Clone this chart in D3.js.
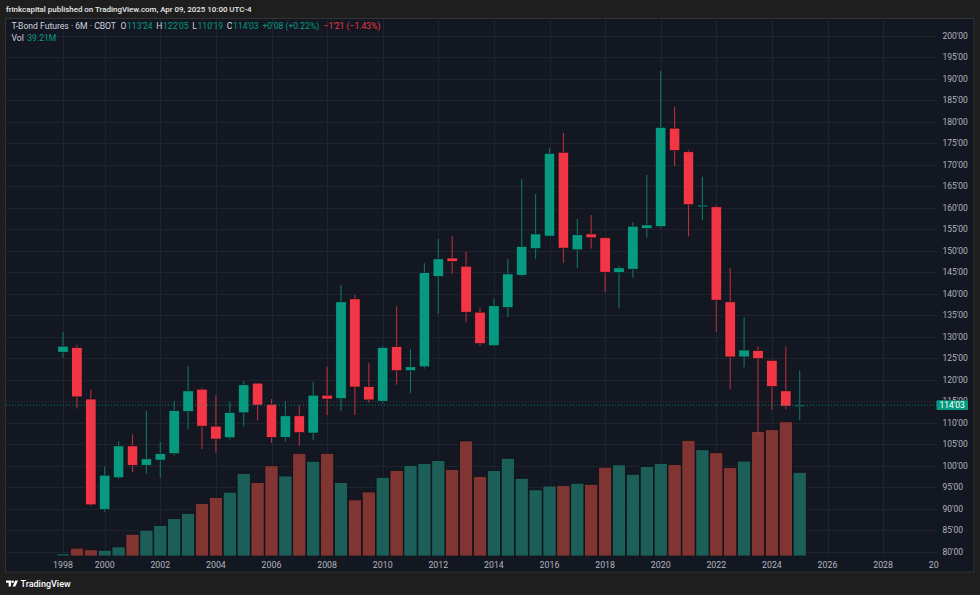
<!DOCTYPE html>
<html><head><meta charset="utf-8">
<script src="https://cdn.jsdelivr.net/npm/d3@7"></script>
<style>html,body{margin:0;padding:0;background:#1e1e1e;} svg{display:block;}</style>
</head><body><svg id="c" width="980" height="595"></svg>
<script>
// ---- data (6-month bars, T-Bond futures, CBOT) ----
const periods = ["1998 H2","1999 H1","1999 H2","2000 H1","2000 H2","2001 H1","2001 H2","2002 H1","2002 H2","2003 H1",
  "2003 H2","2004 H1","2004 H2","2005 H1","2005 H2","2006 H1","2006 H2","2007 H1","2007 H2","2008 H1",
  "2008 H2","2009 H1","2009 H2","2010 H1","2010 H2","2011 H1","2011 H2","2012 H1","2012 H2","2013 H1",
  "2013 H2","2014 H1","2014 H2","2015 H1","2015 H2","2016 H1","2016 H2","2017 H1","2017 H2","2018 H1",
  "2018 H2","2019 H1","2019 H2","2020 H1","2020 H2","2021 H1","2021 H2","2022 H1","2022 H2","2023 H1",
  "2023 H2","2024 H1","2024 H2","2025 H1"];
const opens  = [126.4,127.5,115.5,89.8,97.2,104.6,100.1,101.3,102.8,112.6,
  117.8,109.2,106.5,112.3,119.2,114.3,106.6,111.6,107.6,116.4,
  115.6,138.8,118.4,115.0,127.7,122.1,123.0,144.0,148.3,146.4,
  135.7,127.9,136.8,144.3,150.5,153.4,172.9,150.2,153.9,153.0,
  144.9,145.7,155.2,155.6,178.5,173.0,160.2,160.2,138.1,125.3,
  126.8,124.5,117.4,113.75];
const highs  = [131.1,128.1,117.7,99.9,105.7,107.3,112.7,105.5,115.0,123.2,
  118.1,116.4,114.9,119.7,119.3,115.5,115.0,114.0,119.5,123.0,
  142.0,139.7,123.8,127.8,137.1,127.1,147.1,152.7,153.4,149.8,
  136.8,138.8,148.0,166.7,163.2,173.9,177.4,157.4,158.3,153.2,
  146.5,156.6,167.6,191.8,183.5,173.4,167.2,160.6,146.0,134.5,
  127.8,124.7,127.7,122.156];
const lows   = [125.1,113.3,90.6,89.3,96.9,98.5,98.1,97.2,102.4,108.5,
  103.9,103.0,106.1,109.1,110.5,105.3,105.6,104.6,106.0,111.8,
  112.7,111.8,114.7,114.5,118.8,116.9,122.6,135.3,144.7,133.3,
  127.9,127.8,134.6,144.0,148.0,153.4,147.2,145.9,150.5,140.4,
  136.6,143.7,153.0,155.3,169.7,153.3,157.1,131.1,117.8,122.9,
  107.1,113.0,113.1,110.594];
const closes = [127.8,116.0,90.9,97.8,104.6,100.1,101.6,102.8,112.8,117.4,
  109.2,106.2,112.4,118.8,114.1,106.6,111.6,107.7,116.4,115.5,
  138.1,118.3,115.3,127.5,122.1,123.0,144.9,148.1,147.5,135.7,
  128.4,137.2,144.6,151.0,153.9,172.65,150.6,153.7,153.0,145.0,
  146.0,155.7,156.0,178.7,173.3,160.7,160.6,138.5,125.3,126.9,
  124.9,118.4,113.84,114.094];
const volumes = [1.0,3.7,2.9,2.7,4.3,10.2,12.1,14.3,17.5,20.0,
  24.6,27.4,29.9,38.7,34.4,42.3,37.5,48.1,44.4,48.1,
  34.4,26.3,30.0,36.9,40.1,42.5,43.4,44.7,40.6,53.9,
  37.3,40.1,45.8,36.4,31.0,32.8,33.0,34.1,33.6,41.6,
  42.7,38.3,42.0,43.4,42.8,54.2,49.8,48.4,41.4,44.5,
  58.3,59.2,62.9,39.21]; // millions
const priceTicks = [80,85,90,95,100,105,110,115,120,125,130,135,140,145,150,155,160,165,170,175,180,185,190,195,200];
const yearLabels = [1998,2000,2002,2004,2006,2008,2010,2012,2014,2016,2018,2020,2022,2024,2026,2028,2030];
const header = "frinkcapital published on TradingView.com, Apr 09, 2025 10:00 UTC-4";
const title = "T-Bond Futures · 6M · CBOT";
const legendO = "113'24", legendH = "122'05", legendL = "110'19", legendC = "114'03";
const legendChg = "+0'08 (+0.22%)", legendChg2 = "\u22121'21 (\u22121.43%)";
const volText = "39.21M";

// ---- drawing ----
const UP = "#089981", DOWN = "#f23645";
const UPW = "#0f7465", DOWNW = "#b3303d";
const VUP = "#1c5e58", VDOWN = "#813533";
const FONT = "Roboto, 'Noto Sans', sans-serif";
const svg = d3.select("#c");
svg.append("rect").attr("width",980).attr("height",595).attr("fill","#1e1e1e");
svg.append("rect").attr("x",5.5).attr("y",18.5).attr("width",968.5).attr("height",553.5)
  .attr("fill","#131722").attr("stroke","#333333");

const plot = {l:6, r:937, t:19, b:556};
const x = d3.scaleLinear().domain([0,63]).range([63,938.7]);
const y = d3.scaleLinear().domain([80,200]).range([551.7,35.7]);
const yVol = d3.scaleLinear().domain([0,d3.max(volumes)]).range([plot.b, plot.b-0.25*(plot.b-plot.t)]);
const yearIndex = yr => yr===1998 ? 0 : (yr-1998)*2-1;
const fmtPrice = v => { const w=Math.floor(v); const t=Math.round((v-w)*32); return w+"'"+String(t).padStart(2,"0"); };

const defs = svg.append("defs");
defs.append("clipPath").attr("id","pc").append("rect")
  .attr("x",plot.l).attr("y",plot.t).attr("width",plot.r-plot.l).attr("height",plot.b-plot.t);
defs.append("clipPath").attr("id","tc").append("rect")
  .attr("x",plot.l).attr("y",556).attr("width",plot.r-plot.l+2).attr("height",16);
const g = svg.append("g").attr("clip-path","url(#pc)");

// grid
g.selectAll("line.hg").data(priceTicks).join("line").attr("class","hg")
  .attr("x1",plot.l).attr("x2",plot.r)
  .attr("y1",d=>Math.round(y(d))+0.5).attr("y2",d=>Math.round(y(d))+0.5)
  .attr("stroke","#1f2330").attr("stroke-width",1);
g.selectAll("line.vg").data(yearLabels).join("line").attr("class","vg")
  .attr("x1",d=>Math.round(x(yearIndex(d)))+0.5).attr("x2",d=>Math.round(x(yearIndex(d)))+0.5)
  .attr("y1",plot.t).attr("y2",plot.b)
  .attr("stroke","#1f2330").attr("stroke-width",1);

const idx = d3.range(periods.length);
const isUp = i => closes[i] >= opens[i];

// volume
g.selectAll("rect.vol").data(idx).join("rect").attr("class","vol")
  .attr("x",i=>x(i)-6.6).attr("width",13.2)
  .attr("y",i=>yVol(volumes[i])).attr("height",i=>plot.b-yVol(volumes[i]))
  .attr("fill",i=>isUp(i)?VUP:VDOWN)
  .attr("stroke","#0d1017").attr("stroke-width",0.8);

// wicks
g.selectAll("line.wick").data(idx).join("line").attr("class","wick")
  .attr("x1",i=>x(i)).attr("x2",i=>x(i))
  .attr("y1",i=>y(highs[i])).attr("y2",i=>y(lows[i]))
  .attr("stroke",i=>isUp(i)?UPW:DOWNW).attr("stroke-width",1.1);
// bodies
g.selectAll("rect.body").data(idx).join("rect").attr("class","body")
  .attr("x",i=>x(i)-5.2).attr("width",10.4)
  .attr("y",i=>y(Math.max(opens[i],closes[i])))
  .attr("height",i=>Math.max(1.5, Math.abs(y(opens[i])-y(closes[i]))))
  .attr("fill",i=>isUp(i)?UP:DOWN)
  .attr("stroke","#0d1017").attr("stroke-width",0.6);

// last price line
const last = closes[closes.length-1];
g.append("line").attr("x1",plot.l).attr("x2",plot.r)
  .attr("y1",y(last)).attr("y2",y(last))
  .attr("stroke",UP).attr("stroke-width",1).attr("stroke-dasharray","1,2").attr("opacity",0.8);

// price axis labels (the one under the last-price box is clipped to its visible top part)
defs.append("clipPath").attr("id","lc").append("rect")
  .attr("x",936).attr("y",0).attr("width",44).attr("height",y(last)-4.8);
svg.selectAll("text.pt").data(priceTicks).join("text").attr("class","pt")
  .attr("x",942.5).attr("y",d=>y(d)).attr("dy","0.35em")
  .attr("fill","#b2b5be").attr("font-family",FONT).attr("font-size",8.5)
  .attr("clip-path",d=>Math.abs(y(d)-y(last))<10 ? "url(#lc)" : null)
  .text(d=>d+"'00");
// last price box
svg.append("rect").attr("x",936.5).attr("y",y(last)-4.8).attr("width",31.5).attr("height",9.6)
  .attr("fill",UP).attr("rx",1);
svg.append("text").attr("x",952.2).attr("y",y(last)).attr("dy","0.35em").attr("text-anchor","middle")
  .attr("fill","#ffffff").attr("font-family",FONT).attr("font-size",8.5).text(fmtPrice(last));

// time axis labels
svg.append("g").selectAll("text").data(yearLabels).join("text")
  .attr("x",d=>x(yearIndex(d))).attr("y",564.7).attr("dy","0.35em").attr("text-anchor","middle")
  .attr("fill","#b2b5be").attr("font-family",FONT).attr("font-size",8.8)
  .attr("clip-path","url(#tc)")
  .text(d=>String(d));

// helper: shrink/grow font so text spans the target width
function fitWidth(sel, target){
  const fs = +sel.attr("font-size");
  const w = sel.node().getComputedTextLength();
  if (w > 0) sel.attr("font-size", (fs*target/w).toFixed(2));
}

// header
const hd = svg.append("text").attr("x",6).attr("y",9).attr("dy","0.35em")
  .attr("fill","#e8e8e8").attr("font-family",FONT).attr("font-size",8).attr("font-weight",500)
  .text(header);
fitWidth(hd, 246);

// legend: sequential layout
const leg = svg.append("g").attr("font-family",FONT).attr("font-size",8.6);
const legItems = [
  [title, "#d1d4dc", 0], ["O", "#d1d4dc", 4.5], [legendO, UP, 0.6],
  ["H", "#d1d4dc", 3.6], [legendH, UP, 0.6], ["L", "#d1d4dc", 3.6], [legendL, UP, 0.6],
  ["C", "#d1d4dc", 3.6], [legendC, UP, 0.6], [legendChg, UP, 3.8], [legendChg2, DOWN, 4.2]
];
let cx = 11.5;
legItems.forEach((d,k)=>{
  cx += d[2];
  const t = leg.append("text").attr("x",cx).attr("y",26).attr("dy","0.35em").attr("fill",d[1]).text(d[0]);
  cx += t.node().getComputedTextLength();
});
const vt = leg.append("text").attr("x",11.5).attr("y",37.7).attr("dy","0.35em").attr("fill","#d1d4dc").text("Vol");
leg.append("text").attr("x",11.5+vt.node().getComputedTextLength()+3.5).attr("y",37.7).attr("dy","0.35em").attr("fill",UP).text(volText);

// TradingView logo
const logo = svg.append("g").attr("transform","translate(6,580.5)").attr("fill","#ffffff");
logo.append("path").attr("d","M0 0 H5 V6 H2.6 V2.3 H0 Z");
logo.append("circle").attr("cx",6.6).attr("cy",1.3).attr("r",1.3);
logo.append("path").attr("d","M9.2 0 H12 L9.3 6 H6.6 Z");
svg.append("text").attr("x",20.5).attr("y",584).attr("dy","0.35em")
  .attr("fill","#ffffff").attr("font-family",FONT).attr("font-size",9).attr("font-weight",500)
  .text("TradingView");
</script></body></html>
